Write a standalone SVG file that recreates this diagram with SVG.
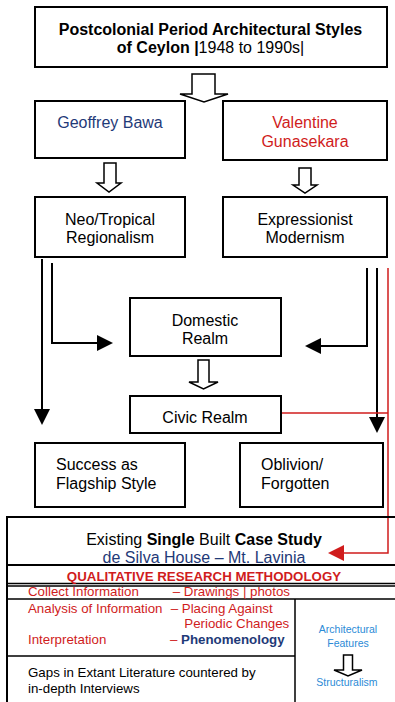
<svg xmlns="http://www.w3.org/2000/svg" width="395" height="702" viewBox="0 0 395 702">
<style>
.box{fill:#fff;stroke:#000;stroke-width:2}
.t{font-family:"Liberation Sans",Arial,sans-serif;font-size:16px;fill:#000}
.b{font-weight:bold}
.navy{fill:#1f3a78}
.red{fill:#d01c1c}
.lb{fill:#2b8ad6}
.s{font-size:13.3px}
.xs{font-size:10.5px}
.ln{fill:none;stroke:#000;stroke-width:2}
.rl{fill:none;stroke:#d01c1c;stroke-width:1.5}
.ha{fill:#fff;stroke:#000;stroke-width:1.5;stroke-linejoin:miter}
.tl{stroke:#000;stroke-width:1.5;fill:none}
</style>
<defs>
<marker id="ah" markerUnits="userSpaceOnUse" viewBox="0 0 16 16" markerWidth="16" markerHeight="16" refX="12" refY="8" orient="auto">
<path d="M0,0 L16,8 L0,16 z" fill="#000"/>
</marker>
<marker id="ahr" markerUnits="userSpaceOnUse" viewBox="0 0 16 16" markerWidth="16" markerHeight="16" refX="12" refY="8" orient="auto">
<path d="M0,0 L16,8 L0,16 z" fill="#d01c1c"/>
</marker>
</defs>
<rect width="395" height="702" fill="#fff"/>

<g id="connectors">
<polygon class="ha" points="192,74 215,74 215,94 228,94 204,102 180,94 192,94"/>
<polygon class="ha" points="104,163 116,163 116,183 121,183 109,192 97,183 104,183"/>
<polygon class="ha" points="299,168 311,168 311,185 317,185 305,193 293,185 299,185"/>
<polygon class="ha" points="198,360 209,360 209,382 218,382 203.5,389 189,382 198,382"/>
<path class="ln" d="M42,259 V421" marker-end="url(#ah)"/>
<path class="ln" d="M52,263 V343 H109" marker-end="url(#ah)"/>
<path class="ln" d="M367,268 V346 H309" marker-end="url(#ah)"/>
<path class="ln" d="M377,268 V429" marker-end="url(#ah)"/>
<path class="rl" d="M281,413 H388"/>
<path class="rl" d="M388,268 V553 H332" marker-end="url(#ahr)"/>
</g>

<g id="n-title">
<rect class="box" x="35" y="7" width="352" height="60"/>
<text class="t b" x="210.5" y="35" text-anchor="middle">Postcolonial Period Architectural Styles</text>
<text class="t" x="210.5" y="53" text-anchor="middle"><tspan class="b">of Ceylon |</tspan>1948 to 1990s|</text>
</g>

<g id="n-bawa">
<rect class="box" x="35" y="101" width="150" height="57"/>
<text class="t navy" x="110" y="128" text-anchor="middle">Geoffrey Bawa</text>
</g>

<g id="n-valentine">
<rect class="box" x="223" y="101" width="164" height="59"/>
<text class="t red" x="305" y="128" text-anchor="middle">Valentine</text>
<text class="t red" x="305" y="147" text-anchor="middle">Gunasekara</text>
</g>

<g id="n-neo">
<rect class="box" x="35" y="197" width="150" height="60"/>
<text class="t" x="110" y="225" text-anchor="middle">Neo/Tropical</text>
<text class="t" x="110" y="243" text-anchor="middle">Regionalism</text>
</g>

<g id="n-expr">
<rect class="box" x="223" y="197" width="164" height="60"/>
<text class="t" x="305" y="225" text-anchor="middle">Expressionist</text>
<text class="t" x="305" y="243" text-anchor="middle">Modernism</text>
</g>

<g id="n-domestic">
<rect class="box" x="130" y="298" width="151" height="58"/>
<text class="t" x="205" y="326" text-anchor="middle">Domestic</text>
<text class="t" x="205" y="344" text-anchor="middle">Realm</text>
</g>

<g id="n-civic">
<rect class="box" x="130" y="396" width="151" height="37"/>
<text class="t" x="205" y="423" text-anchor="middle">Civic Realm</text>
</g>

<g id="n-success">
<rect class="box" x="35" y="443" width="150" height="64"/>
<text class="t" x="56" y="470">Success as</text>
<text class="t" x="56" y="489">Flagship Style</text>
</g>

<g id="n-oblivion">
<rect class="box" x="240" y="443" width="143" height="64"/>
<text class="t" x="261" y="470">Oblivion/</text>
<text class="t" x="261" y="489">Forgotten</text>
</g>

<g id="n-casestudy">
<text class="t" x="204" y="545" text-anchor="middle">Existing <tspan class="b">Single</tspan> Built <tspan class="b">Case Study</tspan></text>
<text class="t navy" x="204" y="563" text-anchor="middle">de Silva House – Mt. Lavinia</text>
<path class="ln" d="M397,517 H7 V703"/>
<path class="ln" d="M7,565 H397"/>
<path class="tl" d="M7,583.5 H397 M7,586 H397 M7,599 H397 M295,599 V703 M7,656 H295"/>
</g>

<g id="n-method">
<text class="t b red" x="204" y="581" text-anchor="middle" style="font-size:13.3px">QUALITATIVE RESEARCH METHODOLOGY</text>
<text class="t s red" x="28" y="596">Collect Information</text>
<text class="t s red" x="172.7" y="596">– Drawings | photos</text>
<text class="t s red" x="28" y="613">Analysis of Information</text>
<text class="t s red" x="170.7" y="613">– Placing Against</text>
<text class="t s red" x="184.3" y="628">Periodic Changes</text>
<text class="t s red" x="28" y="644">Interpretation</text>
<text class="t s red" x="170" y="644">– <tspan class="b navy">Phenomenology</tspan></text>
</g>

<g id="n-gaps">
<text class="t s" x="28" y="677">Gaps in Extant Literature countered by</text>
<text class="t s" x="28" y="693">in-depth Interviews</text>
</g>

<g id="n-structuralism">
<text class="t xs lb" x="348" y="633" text-anchor="middle">Architectural</text>
<text class="t xs lb" x="348" y="647" text-anchor="middle">Features</text>
<polygon class="ha" points="343.5,655 352.5,655 352.5,670 362,670 348,676 334,670 343.5,670"/>
<text class="t xs lb" x="347" y="686" text-anchor="middle">Structuralism</text>
</g>
</svg>
